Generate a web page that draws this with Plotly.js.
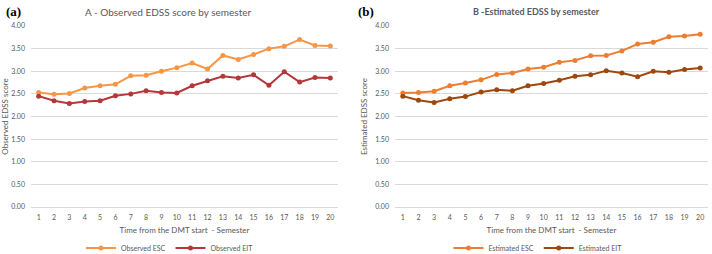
<!DOCTYPE html>
<html>
<head>
<meta charset="utf-8">
<script src="https://cdn.plot.ly/plotly-3.0.1.min.js"></script>
<style>html,body{margin:0;padding:0;background:#fff}#chart{width:712px;height:254px}</style>
</head>
<body>
<div id="chart"></div>
<script>
const semesters = ['1','2','3','4','5','6','7','8','9','10','11','12','13','14','15','16','17','18','19','20'];
const observedESC = [2.53,2.49,2.51,2.63,2.68,2.71,2.90,2.91,3.00,3.08,3.18,3.05,3.35,3.26,3.37,3.50,3.55,3.70,3.57,3.56];
const observedEIT = [2.45,2.35,2.29,2.33,2.35,2.46,2.50,2.57,2.53,2.52,2.68,2.79,2.89,2.85,2.92,2.69,2.99,2.76,2.86,2.85];
const estimatedESC = [2.52,2.53,2.56,2.68,2.74,2.81,2.93,2.96,3.05,3.09,3.20,3.24,3.34,3.35,3.45,3.60,3.64,3.76,3.78,3.82];
const estimatedEIT = [2.45,2.36,2.31,2.39,2.44,2.54,2.59,2.57,2.68,2.73,2.80,2.89,2.92,3.01,2.96,2.88,3.00,2.98,3.04,3.07];

const W = 712, H = 254;
const M = {l: 30, r: 3, t: 26, b: 47, autoexpand: false};
const FONT = 'Lato, "Open Sans", sans-serif';
const GRAY = '#595959';
const px = v => (v - M.l) / (W - M.l - M.r);
const py = v => (H - M.b - v) / (H - M.t - M.b);

function tr(y, name, color, xa, ya, leg) {
  return {
    x: semesters, y: y, name: name, type: 'scatter', mode: 'lines+markers',
    line: {color: color, width: 2}, marker: {color: color, size: 5},
    xaxis: xa, yaxis: ya, legend: leg, cliponaxis: false
  };
}

const data = [
  tr(observedESC, 'Observed ESC', '#F79646', 'x', 'y', 'legend'),
  tr(observedEIT, 'Observed EIT', '#B5373A', 'x', 'y', 'legend'),
  tr(estimatedESC, 'Estimated ESC', '#ED7D31', 'x2', 'y2', 'legend2'),
  tr(estimatedEIT, 'Estimated EIT', '#9E480E', 'x2', 'y2', 'legend2')
];

function xax(domain, anchor) {
  return {
    domain: domain, anchor: anchor, type: 'category', automargin: false,
    range: [-0.5, 19.5], showgrid: false, zeroline: false,
    showline: true, linecolor: '#D9D9D9', linewidth: 1,
    ticks: '', ticklabelstandoff: 4, tickfont: {family: FONT, size: 7, color: GRAY},
    title: {text: 'Time from the DMT start  - Semester', font: {family: FONT, size: 8, color: GRAY}, standoff: 6},
    fixedrange: true
  };
}
function yax(domain, anchor, title) {
  return {
    domain: domain, anchor: anchor, range: [0, 4], dtick: 0.5, tickformat: '.2f', automargin: false,
    showgrid: true, gridcolor: '#D9D9D9', gridwidth: 1, zeroline: false, showline: false,
    ticks: '', ticklabelstandoff: 5, tickfont: {family: FONT, size: 7, color: GRAY},
    title: {text: title, font: {family: FONT, size: 8, color: GRAY}, standoff: 6},
    fixedrange: true
  };
}

const yDom = [0, 1];
const layout = {
  width: W, height: H,
  margin: M,
  paper_bgcolor: '#fff', plot_bgcolor: '#fff',
  showlegend: true,
  xaxis: xax([px(31), px(338)], 'y'),
  yaxis: yax(yDom, 'x', 'Observed EDSS score'),
  xaxis2: xax([px(395), px(708)], 'y2'),
  yaxis2: yax(yDom, 'x2', 'Estimated EDSS score'),
  legend: {orientation: 'h', x: px(170), xanchor: 'center', y: py(248), yanchor: 'middle',
           font: {family: FONT, size: 7, color: GRAY}, bgcolor: 'rgba(0,0,0,0)'},
  legend2: {orientation: 'h', x: px(538), xanchor: 'center', y: py(248), yanchor: 'middle',
           font: {family: FONT, size: 7, color: GRAY}, bgcolor: 'rgba(0,0,0,0)'},
  annotations: [
    {text: '(a)', x: px(4), y: py(12), xref: 'paper', yref: 'paper', xanchor: 'left', yanchor: 'middle',
     showarrow: false, font: {family: '"Liberation Serif", serif', size: 13, color: '#000', weight: 'bold'}},
    {text: '(b)', x: px(356), y: py(12), xref: 'paper', yref: 'paper', xanchor: 'left', yanchor: 'middle',
     showarrow: false, font: {family: '"Liberation Serif", serif', size: 13, color: '#000', weight: 'bold'}},
    {text: 'A - Observed EDSS score by semester', x: px(168), y: py(12), xref: 'paper', yref: 'paper',
     xanchor: 'center', yanchor: 'middle', showarrow: false, font: {family: FONT, size: 10, color: GRAY}},
    {text: '<b>B -Estimated EDSS by semester</b>', x: px(536), y: py(12), xref: 'paper', yref: 'paper',
     xanchor: 'center', yanchor: 'middle', showarrow: false, font: {family: FONT, size: 9, color: GRAY}}
  ]
};

Plotly.newPlot('chart', data, layout, {displayModeBar: false, staticPlot: true});
</script>
</body>
</html>
